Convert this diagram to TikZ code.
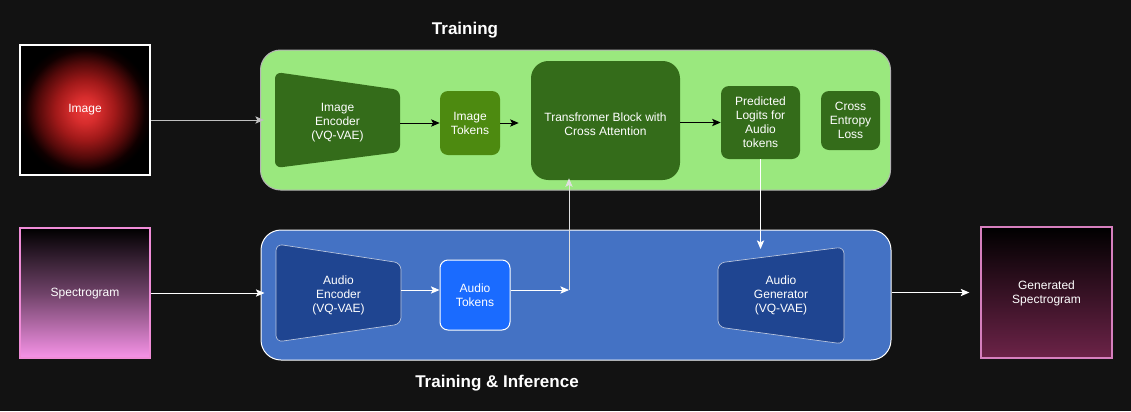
\documentclass[tikz,border=0pt]{standalone}
\usepackage{fontspec}
\setmainfont{Liberation Sans}
\usetikzlibrary{arrows.meta,calc}
\definecolor{bg}{HTML}{121212}
\definecolor{lightgreen}{HTML}{9AE87E}
\definecolor{darkgreen}{HTML}{346C1A}
\definecolor{olive}{HTML}{4D8A10}
\definecolor{midblue}{HTML}{4472C4}
\definecolor{darkblue}{HTML}{1F4591}
\definecolor{brightblue}{HTML}{1A6BFF}
\definecolor{pinkbot}{HTML}{F793E8}
\definecolor{pinkedge}{HTML}{F08CD8}
\definecolor{genbot}{HTML}{6C2348}
\definecolor{genedge}{HTML}{D67FBE}
\pgfdeclareradialshading{redglow}{\pgfpoint{0bp}{0bp}}{%
  color(0bp)=(rgb,255:red,235;green,60;blue,60);
  color(5bp)=(rgb,255:red,215;green,45;blue,45);
  color(11.5bp)=(rgb,255:red,160;green,25;blue,25);
  color(18bp)=(rgb,255:red,85;green,10;blue,10);
  color(23bp)=(rgb,255:red,15;green,0;blue,0);
  color(26bp)=(rgb,255:red,0;green,0;blue,0);
  color(100bp)=(rgb,255:red,0;green,0;blue,0)}
\begin{document}
\begin{tikzpicture}[x=0.75pt,y=-0.75pt,
  lbl/.style={text=white,font=\fontsize{9pt}{10.5pt}\selectfont,align=center,inner sep=0pt},
  title/.style={text=white,font=\fontsize{12.75pt}{14pt}\selectfont\bfseries,inner sep=0pt},
  box/.style={lbl,rounded corners=6pt,minimum width=#1},
  arr/.style={-{Stealth[length=6.5pt,width=5.5pt,inset=1.5pt]},line width=0.75pt},
  blk/.style={arr,black},
  wht/.style={arr,white},
  gry/.style={arr,gray!50!white},
  trap/.style={rounded corners=5pt,line width=0.5pt}
]
\useasboundingbox (0,0) rectangle (1131,411);
\fill[bg] (0,0) rectangle (1131,411);

% titles
\node[title] (ttrain) at (465,30) {Training};
\node[title] (tinf) at (497,383) {Training \& Inference};

% containers
\node[draw=gray!60,line width=0.75pt,fill=lightgreen,rounded corners=15pt,minimum width=630*0.75pt,minimum height=140*0.75pt,inner sep=0pt] (green) at (575.5,120) {};
\node[draw=white,line width=0.75pt,fill=midblue,rounded corners=15pt,minimum width=630*0.75pt,minimum height=130*0.75pt,inner sep=0pt] (blue) at (576,295) {};

% Image
\node[draw=white,line width=1pt,minimum width=130*0.75pt,minimum height=130*0.75pt,inner sep=0pt,
  shading=redglow] (img) at (85,110) {};
\node[lbl] (imgt) at (img.center) {Image};

% Spectrogram
\node[draw=pinkedge,line width=1pt,minimum width=130*0.75pt,minimum height=130*0.75pt,inner sep=0pt,
  top color=black,bottom color=pinkbot,middle color=pinkbot!45!black] (spec) at (85,293) {};
\node[lbl] (spect) at ([yshift=-1*0.75pt]spec.center) {Spectrogram};

% Generated spectrogram
\node[draw=genedge,line width=1pt,minimum width=131*0.75pt,minimum height=131*0.75pt,inner sep=0pt,
  top color=black,bottom color=genbot] (gen) at (1046.5,292.5) {};
\node[lbl] (gent) at ([yshift=-1*0.75pt]gen.center) {Generated\\Spectrogram};

% Image encoder (trapezoid)
\fill[darkgreen,trap] (275,72) -- (400,90) -- (400,152) -- (275,168) -- cycle;
\node[lbl,minimum width=125*0.75pt,minimum height=62*0.75pt] (ienc) at (337.5,123) {Image\\Encoder\\(VQ-VAE)};

% Image tokens
\node[box=60*0.75pt,fill=olive,minimum height=64*0.75pt] (itok) at (470,123) {Image\\Tokens};

% Transformer
\node[fill=darkgreen,rounded corners=13pt,minimum width=149*0.75pt,minimum height=119*0.75pt,inner sep=0pt] (tf) at (605.5,120.5) {};
\node[lbl] (tft) at (605.5,124) {Transfromer Block with\\Cross Attention};

% Predicted logits
\node[box=79*0.75pt,fill=darkgreen,minimum height=73*0.75pt] (pl) at (760.5,122.5) {Predicted\\Logits for\\Audio\\tokens};

% Cross entropy
\node[box=59*0.75pt,fill=darkgreen,minimum height=59*0.75pt] (ce) at (850.5,120.5) {Cross\\Entropy\\Loss};

% Audio encoder
\filldraw[fill=darkblue,draw=white!70!darkblue,trap] (276,244) -- (401,263) -- (401,324) -- (276,342) -- cycle;
\node[lbl,minimum width=125*0.75pt,minimum height=61*0.75pt] (aenc) at (338.5,295) {Audio\\Encoder\\(VQ-VAE)};

% Audio tokens
\node[box=70*0.75pt,fill=brightblue,draw=white,line width=0.75pt,minimum height=70*0.75pt] (atok) at (475,295) {Audio\\Tokens};

% Audio generator
\filldraw[fill=darkblue,draw=white!70!darkblue,trap] (718,263) -- (844,247) -- (844,344) -- (718,327) -- cycle;
\node[lbl,minimum width=126*0.75pt,minimum height=64*0.75pt] (agen) at (781,295) {Audio\\Generator\\(VQ-VAE)};

% junction coordinates
\coordinate (j) at (569,290);
\coordinate (aout) at (401,290);
\coordinate (gtop) at (761,249);

% arrows
\draw[gry] (img.east |- green.west) -- ([xshift=4*0.75pt]green.west);
\draw[blk] (ienc.east |- itok.west) -- (itok.west);
\draw[blk] (itok.east) -- ([xshift=-12*0.75pt]itok.east -| tf.west);
\draw[blk] (tf.east |- pl.west) -- (pl.west);
\draw[wht] (spec.east) -- ([xshift=4*0.75pt]spec.east -| blue.west);
\draw[wht] (aout) -- (aout -| atok.west);
\draw[wht] (atok.east |- j) -- (j);
\draw[arr,gray!25!white] (j) -- ([yshift=2*0.75pt]j |- tf.south);
\draw[wht] (pl.south) -- (pl.south |- gtop);
\draw[wht] (blue.east |- gen.west) -- ([xshift=-11*0.75pt]gen.west);
\end{tikzpicture}
\end{document}
